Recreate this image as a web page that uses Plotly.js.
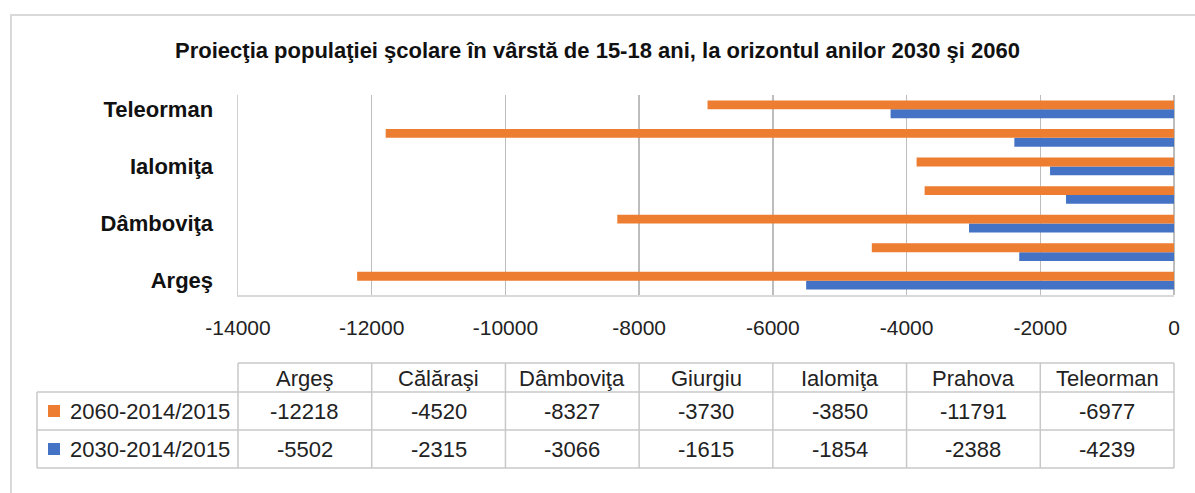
<!DOCTYPE html>
<html>
<head>
<meta charset="utf-8">
<script src="https://cdn.plot.ly/plotly-3.0.1.min.js"></script>
<style>
  body { margin: 0; background: #fff; }
  #chart { width: 1195px; height: 493px; }
  #frame {
    position: absolute; left: 10px; top: 14px; right: -5px; bottom: -5px;
    border-top: 2px solid #d9d9d9; border-left: 2px solid #d9d9d9;
    pointer-events: none;
  }
</style>
</head>
<body>
<div id="chart"></div>
<div id="frame"></div>
<script>
const judete = ["Argeş", "Călăraşi", "Dâmboviţa", "Giurgiu", "Ialomiţa", "Prahova", "Teleorman"];
const shownLabels = ["Argeş", "Dâmboviţa", "Ialomiţa", "Teleorman"];
const serie2060 = [-12218, -4520, -8327, -3730, -3850, -11791, -6977];
const serie2030 = [-5502, -2315, -3066, -1615, -1854, -2388, -4239];
const numeSerii = ["2060-2014/2015", "2030-2014/2015"];
const culori = ["#ED7D31", "#4472C4"];
const xTicks = [-14000, -12000, -10000, -8000, -6000, -4000, -2000, 0];

const xMin = -14000, xMax = 0;
const font = "Liberation Sans, Arial, sans-serif";

// plot area in pixels (margins)
const L = 238, R = 21, T = 95, B = 198;
const W = 1195 - L - R, H = 493 - T - B;
const px = x => (x - L) / W;          // pixel -> paper x
const py = y => (T + H - y) / H;      // pixel -> paper y
const dx = v => (v - xMin) / (xMax - xMin); // data -> paper x

// data table under the axis
const shapes = [];
const annotations = [];
const line = { color: "#c8c8c8", width: 1.5 };
const rowY = [363, 392, 430, 468];
const left = px(37), right = 1;

shapes.push({ type: "line", xref: "paper", yref: "paper", x0: 0, x1: right, y0: py(rowY[0]), y1: py(rowY[0]), line });
for (let i = 1; i < rowY.length; i++) {
  shapes.push({ type: "line", xref: "paper", yref: "paper", x0: left, x1: right, y0: py(rowY[i]), y1: py(rowY[i]), line });
}
shapes.push({ type: "line", xref: "paper", yref: "paper", x0: left, x1: left, y0: py(rowY[1]), y1: py(rowY[3]), line });
for (let i = 0; i <= judete.length; i++) {
  const x = dx(xMin + i * 2000);
  shapes.push({ type: "line", xref: "paper", yref: "paper", x0: x, x1: x, y0: py(rowY[0]), y1: py(rowY[3]), line });
}

const cellFont = { family: font, size: 22, color: "#222" };
const cell = (x, y, text, xanchor) => ({
  xref: "paper", yref: "paper", x, y, text, showarrow: false,
  xanchor: xanchor || "center", yanchor: "middle", font: cellFont
});
judete.forEach((j, i) => {
  const xc = dx(xMin + i * 2000 + 1000);
  annotations.push(cell(xc, py(378), j));
  annotations.push(cell(xc, py(411), String(serie2060[i])));
  annotations.push(cell(xc, py(449), String(serie2030[i])));
});
[411, 449].forEach((y, k) => {
  shapes.push({ type: "rect", xref: "paper", yref: "paper", x0: px(48), x1: px(60), y0: py(y - 6), y1: py(y + 6), fillcolor: culori[k], line: { width: 0 } });
  annotations.push(cell(px(68), py(y), numeSerii[k], "left"));
});

const data = [
  { type: "bar", orientation: "h", y: judete, x: serie2030, name: numeSerii[1], marker: { color: culori[1] } },
  { type: "bar", orientation: "h", y: judete, x: serie2060, name: numeSerii[0], marker: { color: culori[0] } }
];

const layout = {
  width: 1195, height: 493,
  margin: { l: L, r: R, t: T, b: B },
  paper_bgcolor: "#fff", plot_bgcolor: "#fff",
  font: { family: font, color: "#222" },
  showlegend: false,
  barmode: "group", bargap: 0.38, bargroupgap: 0,
  title: {
    text: "Proiecţia populaţiei şcolare în vârstă de 15-18 ani, la orizontul anilor 2030 şi 2060",
    font: { family: font, size: 22, weight: 700, color: "#111" },
    x: 0.5, xref: "container", y: 1 - 50 / 493, yref: "container", yanchor: "middle"
  },
  xaxis: {
    range: [xMin, xMax],
    tickmode: "array", tickvals: xTicks, ticktext: xTicks.map(String),
    showgrid: true, gridcolor: "#bdbdbd", gridwidth: 1.5,
    zeroline: true, zerolinecolor: "#bdbdbd", zerolinewidth: 1.5,
    showline: true, linecolor: "#d9d9d9", linewidth: 1.5,
    ticks: "", ticklabelstandoff: 13,
    tickfont: { family: font, size: 21, color: "#222" }, fixedrange: true
  },
  yaxis: {
    type: "category", categoryorder: "array", categoryarray: judete,
    tickmode: "array", tickvals: shownLabels, ticktext: shownLabels,
    showgrid: false, zeroline: false,
    showline: true, linecolor: "#d0d0d0", linewidth: 1.5, ticks: "",
    ticklabelstandoff: 19,
    tickfont: { family: font, size: 22, weight: 700, color: "#111" }, fixedrange: true
  },
  shapes, annotations
};

Plotly.newPlot("chart", data, layout, { displayModeBar: false, staticPlot: true });
</script>
</body>
</html>
